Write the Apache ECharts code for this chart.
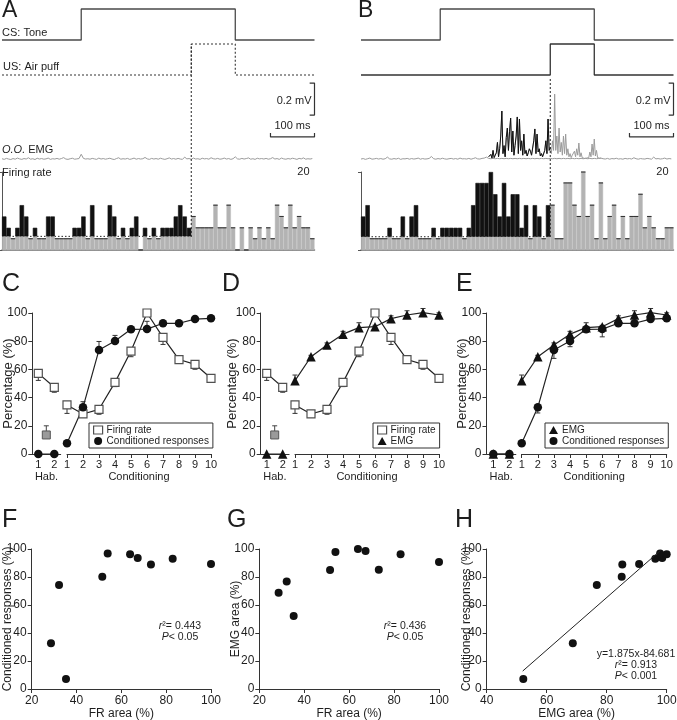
<!DOCTYPE html>
<html>
<head>
<meta charset="utf-8">
<script src="https://cdn.jsdelivr.net/npm/echarts@6/dist/echarts.min.js"></script>
<style>
  html, body { margin: 0; background: #fff; }
  #chart { width: 677px; height: 720px; }
</style>
</head>
<body>
<div id="chart"></div>
<script>
const FONT = '"Liberation Sans", Arial, sans-serif'
const INK = '#1e1e1e'
const AX = '#333'

// trial timing (ms)
const binMs = 10
const csOnMs = 180
const usOnMs = 430
const usOffMs = 530
const trialMs = 710

// firing-rate histograms, 10 ms bins (A: no CR, B: with CR)
const frA = [8.6, 5.7, 2.9, 5.7, 11.5, 8.6, 2.9, 5.7, 2.9, 2.9,
  8.6, 8.6, 2.9, 2.9, 2.9, 2.9, 5.7, 5.7, 8.6, 2.9,
  11.5, 2.9, 2.9, 2.9, 11.5, 8.6, 2.9, 5.7, 2.9, 5.7,
  8.6, 0, 5.7, 2.9, 5.7, 2.9, 5.7, 5.7, 5.7, 8.6,
  11.5, 8.6, 5.7, 8.6, 5.7, 5.7, 5.7, 5.7, 11.5, 5.7,
  5.7, 11.5, 5.7, 0, 5.7, 0, 5.7, 2.9, 5.7, 2.9,
  5.7, 2.9, 11.5, 8.6, 5.7, 11.5, 5.7, 8.6, 5.7, 5.7, 2.9]
const frB = [8.6, 11.5, 2.9, 2.9, 2.9, 2.9, 5.7, 2.9, 2.9, 8.6,
  2.9, 8.6, 11.5, 2.9, 2.9, 2.9, 5.7, 2.9, 5.7, 5.7,
  5.7, 5.7, 5.7, 2.9, 5.7, 11.5, 17.2, 17.2, 17.2, 20,
  14.3, 8.6, 17.2, 8.6, 14.3, 14.3, 5.7, 11.5, 2.9, 11.5,
  8.6, 2.9, 11.5, 11.5, 2.9, 2.9, 17.2, 17.2, 11.5, 8.6,
  20, 8.6, 11.5, 2.9, 17.2, 2.9, 8.6, 11.5, 2.9, 8.6,
  2.9, 8.6, 8.6, 14.3, 5.7, 8.6, 5.7, 2.9, 2.9, 5.7, 5.7]
const frBaseA = 3.5
const frBaseB = 3.4
const frMax = 20

// O.O. EMG traces, µV: resting trace every 5 ms, burst in B every 2.5 ms
const emgStepMs = 5
const emgA = [8, 4, 10, 6, 3, 9, 5, 12, 7, 4, 9, 6, 14, 5, 8, 3, 11, 6, 9, 5,
  7, 12, 4, 8, 6, 10, 5, 9, 15, 6, 4, 8, 11, 5, 7, 9, 36, 10, 6, 8,
  5, 10, 7, 4, 12, 6, 9, 5, 8, 11, 6, 3, 9, 14, 5, 8, 6, 10, 4, 7,
  12, 5, 9, 6, 8, 16, 7, 4, 10, 6, 9, 5, 11, 7, 4, 8, 13, 6, 9, 5,
  10, 6, 4, 18, 7, 9, 5, 12, 6, 8, 4, 11, 7, 9, 5, 14, 8, 6, 10, 5,
  7, 12, 6, 9, 4, 8, 20, 7, 5, 10, 6, 9, 13, 5, 8, 4, 11, 7, 9, 6,
  10, 5, 8, 15, 6, 9, 4, 12, 7, 5, 9, 6, 11, 8, 4, 10, 7, 13, 5, 8, 6, 9]
const emgB = [6, 9, 4, 8, 12, 5, 7, 10, 6, 9, 5, 8, 18, 7, 5, 9, 6, 11, 4, 8,
  7, 10, 5, 9, 6, 8, 12, 5, 9, 6, 7, 10, 22, 8, 5, 9, 6, 11, 7, 5,
  8, 10, 6, 9, 5, 12, 7, 8, 6, 10, 5, 9, 14, 7, 6, 10, 12, 18,
  10, 8, 10, 8, 10, 8, 10, 8, 10, 8, 10, 8, 10, 8, 10, 8, 10, 8, 10, 8,
  10, 8, 10, 8, 10, 8, 10, 8, 10, 8, 10, 8, 10, 8, 10, 8, 10, 8, 10, 8,
  10, 8, 10, 8, 10, 8, 10, 8, 10, 8, 10,
  12, 8, 6, 10, 5, 9, 7, 11, 6, 8, 5, 10, 7, 9, 6, 14, 8, 5, 9, 7,
  6, 10, 8, 5, 18, 7, 9, 6, 8, 12, 6, 9, 7]
const burstStepMs = 2.5
const burstStartMs = 290
const emgBurstB = [20, 10, 35, 12, 60, 15, 30, 45, 110, 20,
  70, 150, 306, 40, 90, 20, 140, 200, 60, 180,
  262, 50, 181, 30, 90, 150, 269, 40, 256, 60,
  120, 30, 162, 40, 60, 25, 45, 70, 55, 30,
  40, 120, 194, 40, 162, 50, 70, 25, 40, 20,
  30, 60, 120, 40, 256, 60, 80, 40, 120, 60,
  412, 60, 150, 40, 200, 50, 110, 30, 150, 40,
  162, 30, 70, 20, 40, 15, 30, 20, 55, 20,
  70, 30, 106, 20, 45, 15, 25, 10, 15, 12,
  20, 15, 50, 20, 100, 30, 131, 25, 60, 15,
  20, 10, 12]
const emgBarUv = 200
const emgBarMs = 100

// learning curves (% of max), Hab. sessions 1-2 and conditioning sessions 1-10
const habTicks = [1, 2]
const sessions = [1, 2, 3, 4, 5, 6, 7, 8, 9, 10]
const frHab = [57.2, 47.3]
const frHabErr = [5, 3.5]
const frHabGray = 13.5
const frHabGrayErr = 6.5
const frCond = [34.8, 28.4, 31.7, 50.8, 73, 100, 82.7, 67, 63.6, 53.7]
const frCondErr = [6, 2.5, 3.5, 3, 4, 0, 5, 2, 3.5, 2]
const crHab = [0, 0]
const crCond = [7.6, 33.1, 73.8, 80.1, 88.4, 88.6, 92.7, 92.7, 95.7, 96.2]
const crCondErr = [1, 4, 6, 4, 1, 5.5, 1, 1, 1, 2]
const emgHab = [0, 0]
const emgCond = [52, 69, 77.3, 85, 89.6, 90.3, 96, 98.6, 100.2, 98.6]
const emgCondErr = [4, 1, 1.5, 2, 3.5, 1, 2, 3, 3, 1.5]

// per-session areas (%) for F-H
const areaFR = [35.3, 28.6, 32.2, 51.5, 73.2, 100, 82.9, 67.3, 63.9, 53.9]
const areaCR = [7.1, 32.6, 74.3, 80.2, 89.0, 89.3, 93.1, 93.6, 96.2, 96.7]
const areaEMG = [52.2, 68.7, 76.7, 85.0, 85.2, 90.8, 96.2, 98.5, 100, 97.8]
const fitH = { slope: 1.875, intercept: -84.681, from: 52, to: 98 }
const statsF = ['0.443', '0.05']
const statsG = ['0.436', '0.05']
const statsH = ['0.913', '0.001']

const grid = []
const xAxis = []
const yAxis = []
const series = []
const graphic = []
const legend = []

const addGrid = (rect, xa, ya) => {
  const gi = grid.length
  grid.push(Object.assign({ containLabel: false, outerBoundsMode: 'none' }, rect))
  xAxis.push(Object.assign({ gridIndex: gi }, xa))
  yAxis.push(Object.assign({ gridIndex: gi }, ya))
  return { gi, x: xAxis.length - 1, y: yAxis.length - 1 }
}
const timeAxis = () => ({ type: 'value', min: 0, max: trialMs, show: false })
const unitAxis = (max) => ({ type: 'value', min: 0, max, show: false })
const addLine = (ax, data, lineStyle, extra) => {
  series.push(Object.assign({
    type: 'line', xAxisIndex: ax.x, yAxisIndex: ax.y, data, symbol: 'none',
    lineStyle, silent: true, clip: false, z: 3
  }, extra || {}))
}
const text = (x, y, str, opt = {}) => {
  graphic.push({
    type: 'text', x, y, silent: true,
    style: Object.assign({
      text: str, fill: INK, fontSize: opt.size || 11, fontFamily: FONT,
      align: opt.align || 'left', verticalAlign: 'middle',
      textAlign: opt.align || 'left', textVerticalAlign: 'middle'
    }, opt.style || {})
  })
}
const italic = (size) => ({ i: { fontStyle: 'italic', fontSize: size, fontFamily: FONT, fill: INK } })

// ---------- A / B : traces and firing-rate histograms ----------
const tracePanel = (left, fr, base, emg, opts) => {
  const width = 312.5
  const cs = addGrid({ left, width, top: 9, height: 31 }, timeAxis(), unitAxis(1))
  addLine(cs, [[0, 0], [csOnMs, 0], [csOnMs, 1], [usOffMs, 1], [usOffMs, 0], [trialMs, 0]],
    { color: '#4a4a4a', width: 1.3 })

  const us = addGrid({ left, width, top: 44, height: 31 }, timeAxis(), unitAxis(1))
  addLine(us, [[0, 0], [usOnMs, 0], [usOnMs, 1], [usOffMs, 1], [usOffMs, 0], [trialMs, 0]],
    { color: '#333', width: opts.usDotted ? 1.1 : 1.3, type: opts.usDotted ? [2, 2] : 'solid' })

  const em = addGrid({ left, width, top: 80, height: 80 }, timeAxis(), unitAxis(500))
  addLine(em, emg.map((v, i) => [i * emgStepMs, v]), { color: '#9b9b9b', width: 1 })
  if (opts.burst) {
    const b = opts.burst.map((v, i) => [burstStartMs + i * burstStepMs, v])
    addLine(em, b, { color: '#9b9b9b', width: 1 }, { z: 4 })
    addLine(em, b.filter(d => d[0] <= usOnMs), { color: '#111', width: 1 }, { z: 5 })
  }
  // scale bars 0.2 mV / 100 ms
  addLine(em, [[trialMs - 11, 281 + emgBarUv], [trialMs, 281 + emgBarUv], [trialMs, 281], [trialMs - 11, 281]],
    { color: '#333', width: 1.2 })
  addLine(em, [[trialMs - emgBarMs, 169], [trialMs - emgBarMs, 144], [trialMs, 144], [trialMs, 169]],
    { color: '#333', width: 1.2 })
  text(left + width - 3, 100.5, '0.2 mV', { align: 'right' })
  text(left + width - 22, 126, '100 ms', { align: 'center' })

  const h = addGrid({ left, width, top: 172, height: 78 },
    {
      type: 'category', data: fr.map((_, i) => i), boundaryGap: true,
      axisLine: { show: true, lineStyle: { color: '#6a6a6a', width: 1.5 } },
      axisTick: { show: false }, axisLabel: { show: false }
    },
    {
      type: 'value', position: 'right', min: 0, max: frMax, interval: frMax,
      axisLine: { show: true, lineStyle: { color: '#555', width: 1 } },
      axisTick: { show: true, inside: true, length: 3, lineStyle: { color: '#555' } },
      axisLabel: {
        inside: true, margin: 5, fontSize: 11, color: INK, fontFamily: FONT,
        formatter: v => (v === frMax ? String(v) : '')
      },
      splitLine: { show: false }
    })
  xAxis.push({ gridIndex: h.gi, type: 'value', min: 0, max: fr.length * binMs, show: false, position: 'top' })
  const hTime = { x: xAxis.length - 1, y: h.y }
  const pre = i => i * binMs < usOnMs
  series.push({
    type: 'bar', xAxisIndex: h.x, yAxisIndex: h.y, stack: 'fr' + left, silent: true,
    barWidth: '100%', barCategoryGap: '0%', barGap: '0%',
    data: fr.map((v, i) => (pre(i) ? Math.min(v, base) : v)),
    itemStyle: { color: '#b3b3b3', borderColor: '#bdbdbd', borderWidth: 0.5 }
  })
  series.push({
    type: 'bar', xAxisIndex: h.x, yAxisIndex: h.y, stack: 'fr' + left, silent: true,
    barWidth: '100%', barCategoryGap: '0%', barGap: '0%',
    data: fr.map((v, i) => (pre(i) ? Math.max(v - base, 0) : 0)),
    itemStyle: { color: '#111', borderColor: '#111', borderWidth: 0.6 }
  })
  addLine(hTime, [[0, base], [usOnMs, base]], { color: '#222', width: 1, type: [1.5, 2] }, { z: 1 })

  // US onset marker across traces
  const ov = addGrid({ left, width, top: opts.usLineTop, height: 237 - opts.usLineTop }, timeAxis(), unitAxis(1))
  addLine(ov, [[usOnMs, 0], [usOnMs, 1]], { color: '#222', width: 1, type: [2, 2] }, { z: 6 })
}

tracePanel(2, frA, frBaseA, emgA, { usDotted: true, usLineTop: 44 })
tracePanel(361, frB, frBaseB, emgB, { usDotted: false, usLineTop: 77, burst: emgBurstB })

text(2, 11, 'A', { size: 23 })
text(358, 11, 'B', { size: 23 })
text(2, 32.5, 'CS: Tone')
text(3, 67, 'US: Air puff')
text(2, 150, '{i|O.O.} EMG', { style: { rich: italic(11) } })
text(2, 172.5, 'Firing rate')

// ---------- C / D / E : learning curves ----------
const marks = {
  'Firing rate': { symbol: 'rect', symbolSize: 8, itemStyle: { color: '#fff', borderColor: '#505050', borderWidth: 1.2, opacity: 1 } },
  'Conditioned responses': { symbol: 'circle', symbolSize: 8.5, itemStyle: { color: '#111', opacity: 1 } },
  'EMG': { symbol: 'triangle', symbolSize: 9.5, itemStyle: { color: '#111', opacity: 1 } }
}
const errSeries = (ax, pts, errs, dir, color) => ({
  type: 'custom', xAxisIndex: ax.x, yAxisIndex: ax.y, silent: true, clip: false, z: 2,
  data: pts.map((p, i) => [p[0], p[1], errs[i]]),
  renderItem: (params, api) => {
    const x = api.value(0)
    const y = api.value(1)
    const e = api.value(2)
    const a = api.coord([x, y])
    const b = api.coord([x, y + dir * e])
    const st = { stroke: color, lineWidth: 1 }
    return {
      type: 'group',
      children: [
        { type: 'line', shape: { x1: a[0], y1: a[1], x2: b[0], y2: b[1] }, style: st },
        { type: 'line', shape: { x1: b[0] - 2.5, y1: b[1], x2: b[0] + 2.5, y2: b[1] }, style: st }
      ]
    }
  }
})
const axisStyle = {
  axisLine: { show: true, lineStyle: { color: AX, width: 1 } },
  axisTick: { show: true, length: 4, lineStyle: { color: AX } },
  splitLine: { show: false },
  nameMoveOverlap: false,
  nameTextStyle: { fontSize: 11, color: INK, fontFamily: FONT }
}
const lbl = (size, margin) => ({ fontSize: size, color: INK, fontFamily: FONT, margin })

const learningPanel = (p) => {
  const top = 313
  const height = 141
  const step = (p.c10X - p.c1X) / 9
  const habMin = 1 - (p.hab1X - p.axisX) / step
  const habMax = 2.4
  const hab = addGrid({ left: p.axisX, width: (habMax - habMin) * step, top, height },
    Object.assign({}, axisStyle, {
      type: 'value', min: habMin, max: habMax,
      axisTick: { show: true, length: 4, lineStyle: { color: AX }, customValues: habTicks },
      axisLabel: Object.assign(lbl(11, 5), { customValues: habTicks }),
      name: 'Hab.', nameLocation: 'middle', nameGap: 17
    }),
    Object.assign({}, axisStyle, {
      type: 'value', min: 0, max: 100, interval: 20,
      axisLabel: lbl(12, 5),
      name: 'Percentage (%)', nameLocation: 'middle', nameGap: p.nameGap,
      nameTextStyle: { fontSize: 13, color: INK, fontFamily: FONT }
    }))
  const cond = addGrid({ left: p.c1X, width: p.c10X - p.c1X, top, height },
    Object.assign({}, axisStyle, {
      type: 'value', min: 1, max: 10, interval: 1, axisLabel: lbl(11, 5),
      name: 'Conditioning', nameLocation: 'middle', nameGap: 17
    }),
    unitAxis(100))

  p.curves.forEach(c => {
    const m = marks[c.name]
    const habPts = habTicks.map((s, i) => [s, c.hab[i]])
    const condPts = sessions.map((s, i) => [s, c.cond[i]])
    if (c.habErr) series.push(errSeries(hab, habPts, c.habErr, c.dir, '#333'))
    series.push(errSeries(cond, condPts, c.condErr, c.dir, '#333'))
    ;[[hab, habPts], [cond, condPts]].forEach(([ax, pts]) => {
      series.push(Object.assign({
        type: 'line', name: c.name, xAxisIndex: ax.x, yAxisIndex: ax.y, data: pts,
        showSymbol: true, silent: true, clip: false, z: c.z || 5,
        lineStyle: { color: '#222', width: 1.2 }
      }, m))
    })
  })
  if (p.gray) {
    const g = [[1.5, frHabGray]]
    series.push(errSeries(hab, g, [frHabGrayErr], 1, '#444'))
    series.push({
      type: 'scatter', xAxisIndex: hab.x, yAxisIndex: hab.y, data: g, silent: true, z: 5,
      symbol: 'rect', symbolSize: 8, itemStyle: { color: '#9a9a9a', borderColor: '#555', borderWidth: 1, opacity: 1 }
    })
  }
  legend.push({
    left: p.legendLeft, top: 423, orient: 'vertical', selectedMode: false,
    borderColor: '#333', borderWidth: 1, borderRadius: 0, padding: [2, 4, 2, 4],
    itemGap: 1, itemWidth: 9, itemHeight: 8,
    textStyle: { fontSize: 10, color: INK, fontFamily: FONT, padding: [0, 0, 0, -1] },
    data: p.curves.map(c => ({ name: c.name, icon: marks[c.name].symbol, itemStyle: marks[c.name].itemStyle }))
  })
  text(p.letterX, 284, p.letter, { size: 25 })
}

const frCurve = { name: 'Firing rate', hab: frHab, habErr: frHabErr, cond: frCond, condErr: frCondErr, dir: -1 }
learningPanel({
  letter: 'C', letterX: 2, axisX: 32.3, hab1X: 38.3, c1X: 67, c10X: 211, nameGap: 17.5, legendLeft: 89, gray: true,
  curves: [frCurve, { name: 'Conditioned responses', hab: crHab, cond: crCond, condErr: crCondErr, dir: 1 }]
})
learningPanel({
  letter: 'D', letterX: 222, axisX: 260.7, hab1X: 266.7, c1X: 295, c10X: 439, nameGap: 22, legendLeft: 373, gray: true,
  curves: [frCurve, { name: 'EMG', hab: emgHab, cond: emgCond, condErr: emgCondErr, dir: 1 }]
})
learningPanel({
  letter: 'E', letterX: 456, axisX: 486.5, hab1X: 493.3, c1X: 521.7, c10X: 666.7, nameGap: 18, legendLeft: 545, gray: false,
  curves: [
    { name: 'EMG', hab: emgHab, cond: emgCond, condErr: emgCondErr, dir: 1 },
    { name: 'Conditioned responses', hab: crHab, cond: crCond, condErr: crCondErr, dir: -1, z: 6 }
  ]
})

// ---------- F / G / H : correlations ----------
const scatterPanel = (p) => {
  const ax = addGrid({ left: p.left, width: p.width, top: 549, height: 140 },
    Object.assign({}, axisStyle, {
      type: 'value', min: p.xMin, max: 100, interval: 20, axisLabel: lbl(12, 6),
      name: p.xName, nameLocation: 'middle', nameGap: 19,
      nameTextStyle: { fontSize: 12, color: INK, fontFamily: FONT }
    }),
    Object.assign({}, axisStyle, {
      type: 'value', min: 0, max: 100, interval: 20, axisLabel: lbl(12, 5),
      name: p.yName, nameLocation: 'middle', nameGap: p.nameGap,
      nameTextStyle: { fontSize: 12, color: INK, fontFamily: FONT }
    }))
  series.push({
    type: 'scatter', xAxisIndex: ax.x, yAxisIndex: ax.y, silent: true, clip: false,
    data: p.xs.map((v, i) => [v, p.ys[i]]), symbol: 'circle', symbolSize: 8,
    itemStyle: { color: '#111', opacity: 1 }
  })
  if (p.fit) {
    const f = x => p.fit.slope * x + p.fit.intercept
    addLine(ax, [[p.fit.from, f(p.fit.from)], [p.fit.to, f(p.fit.to)]], { color: '#222', width: 1 })
  }
  const rich = { i: { fontStyle: 'italic', fontSize: 10.5, fontFamily: FONT, fill: INK } }
  p.notes.forEach((n, k) => text(p.noteX, p.noteY + k * 11, n, { align: 'center', size: 10.5, style: { rich } }))
  text(p.letterX, 520, p.letter, { size: 25 })
}

scatterPanel({
  letter: 'F', letterX: 2, left: 31.7, width: 179.3, xMin: 20, xs: areaFR, ys: areaCR,
  xName: 'FR area (%)', yName: 'Conditioned responses (%)', nameGap: 18.5,
  noteX: 180, noteY: 626, notes: ['{i|r}²= ' + statsF[0], '{i|P}< ' + statsF[1]]
})
scatterPanel({
  letter: 'G', letterX: 227, left: 259.3, width: 179.7, xMin: 20, xs: areaFR, ys: areaEMG,
  xName: 'FR area (%)', yName: 'EMG area (%)', nameGap: 18,
  noteX: 405, noteY: 626, notes: ['{i|r}²= ' + statsG[0], '{i|P}< ' + statsG[1]]
})
scatterPanel({
  letter: 'H', letterX: 455, left: 486.7, width: 180, xMin: 40, xs: areaEMG, ys: areaCR,
  xName: 'EMG area (%)', yName: 'Conditioned responses (%)', nameGap: 14.5, fit: fitH,
  noteX: 636, noteY: 654,
  notes: ['y=' + fitH.slope + 'x' + fitH.intercept, '{i|r}²= ' + statsH[0], '{i|P}< ' + statsH[1]]
})

const chart = echarts.init(document.getElementById('chart'))
chart.setOption({
  animation: false,
  backgroundColor: '#fff',
  textStyle: { fontFamily: FONT },
  grid, xAxis, yAxis, series, legend, graphic
})
</script>
</body>
</html>
